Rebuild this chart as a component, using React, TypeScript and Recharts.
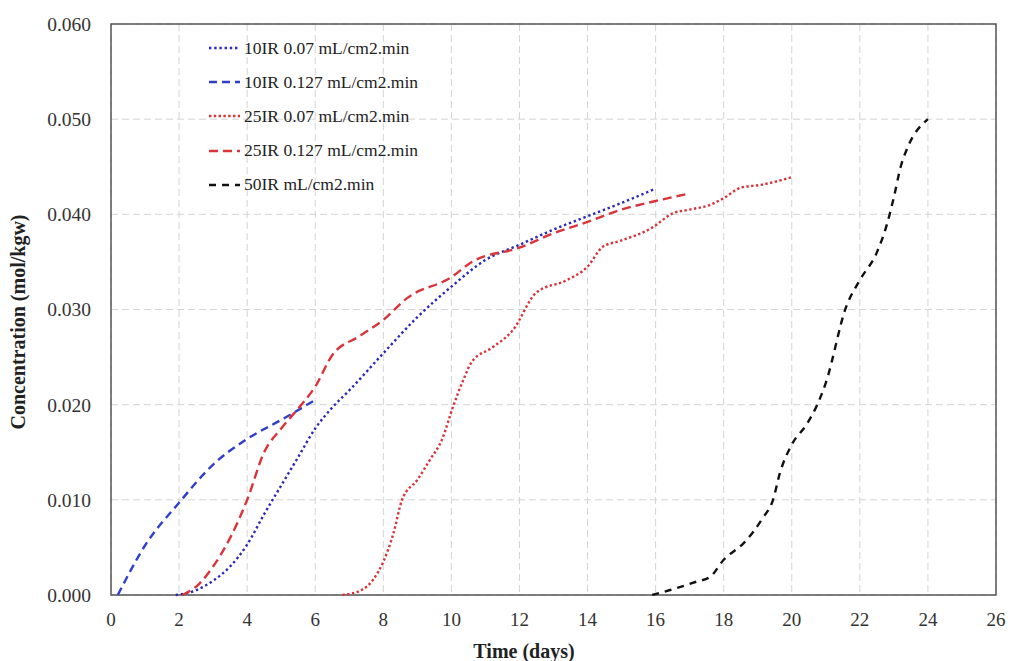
import React from 'react';
import { LineChart, Line, XAxis, YAxis, CartesianGrid, ReferenceArea, Label } from 'recharts';

// 10IR 0.07 mL/cm2.min (blue dotted)
const t10a = [1.9, 2.5, 3, 3.5, 4, 4.5, 5, 5.5, 6, 6.5, 7, 8, 9, 10, 11, 12, 13, 14, 15, 16];
const c10a = [0, 0.0005, 0.0015, 0.003, 0.0053, 0.0085, 0.0115, 0.0145, 0.0175, 0.0197, 0.0215, 0.0254, 0.0292, 0.0324, 0.0352, 0.0368, 0.0384, 0.0398, 0.0412, 0.0427];

// 10IR 0.127 mL/cm2.min (blue dashed)
const t10b = [0.2, 1, 2, 3, 4, 5, 6];
const c10b = [0, 0.0052, 0.0097, 0.0137, 0.0164, 0.0184, 0.0205];

// 25IR 0.07 mL/cm2.min (red dotted)
const t25a = [6.8, 7.4, 7.7, 8.0, 8.3, 8.55, 9.0, 9.37, 9.72, 10.05, 10.35, 10.6, 11.2, 11.8, 12.5, 13.4, 14.0, 14.45, 14.95, 15.9, 16.5, 17.0, 17.6, 18.0, 18.5, 19.1, 20.0];
const c25a = [0, 0.0006, 0.0016, 0.0035, 0.0065, 0.0100, 0.0121, 0.0142, 0.0163, 0.0198, 0.0226, 0.0245, 0.0260, 0.0278, 0.0318, 0.0331, 0.0345, 0.0366, 0.0372, 0.0386, 0.0401, 0.0405, 0.0410, 0.0417, 0.0428, 0.0431, 0.0439];

// 25IR 0.127 mL/cm2.min (red dashed)
const t25b = [2.1, 2.6, 3, 3.5, 4, 4.5, 5, 5.55, 6, 6.5, 7.3, 8.0, 8.7, 10.0, 10.6, 12.0, 13.0, 14.0, 15.0, 16.0, 17.0];
const c25b = [0, 0.0012, 0.003, 0.006, 0.010, 0.015, 0.0175, 0.0198, 0.0219, 0.0252, 0.0272, 0.0289, 0.0312, 0.0334, 0.0350, 0.0365, 0.0380, 0.0392, 0.0405, 0.0414, 0.0422];

// 50IR mL/cm2.min (black dashed)
const t50 = [15.9, 16.4, 17.2, 17.6, 18.0, 18.6, 19.15, 19.45, 19.65, 20.0, 20.45, 20.75, 21.0, 21.6, 22.0, 22.5, 22.8, 23.0, 23.2, 23.4, 24.0];
const c50 = [0, 0.0005, 0.0014, 0.0019, 0.0037, 0.0055, 0.0081, 0.0100, 0.0128, 0.0158, 0.0180, 0.0200, 0.0223, 0.0303, 0.0331, 0.0360, 0.0390, 0.0418, 0.0450, 0.0470, 0.0500];

const xTicks = [0, 2, 4, 6, 8, 10, 12, 14, 16, 18, 20, 22, 24, 26];
const yTicks = [0, 0.01, 0.02, 0.03, 0.04, 0.05, 0.06];

const zip = (t: number[], c: number[]) => t.map((x, i) => ({ x, y: c[i] }));

const series = [
  { name: '10IR 0.07 mL/cm2.min', data: zip(t10a, c10a), color: '#2a2ab8', dash: '2.4 2.8' },
  { name: '10IR 0.127 mL/cm2.min', data: zip(t10b, c10b), color: '#2f3fc9', dash: '8 5' },
  { name: '25IR 0.07 mL/cm2.min', data: zip(t25a, c25a), color: '#d9343a', dash: '2.4 2.4' },
  { name: '25IR 0.127 mL/cm2.min', data: zip(t25b, c25b), color: '#d9343a', dash: '9 5' },
  { name: '50IR mL/cm2.min', data: zip(t50, c50), color: '#111111', dash: '7 6' },
];

const font = '"Liberation Serif", "Times New Roman", serif';

const LegendBox = () => (
  <div style={{ position: 'absolute', left: 207, top: 31, fontFamily: font, fontSize: 17.5, color: '#222' }}>
    {series.map((s) => (
      <div key={s.name} style={{ display: 'flex', alignItems: 'center', height: 34.2 }}>
        <svg width={34} height={10} style={{ marginRight: 3 }}>
          <line x1={2} y1={5} x2={33} y2={5} stroke={s.color} strokeWidth={2.4} strokeDasharray={s.dash} />
        </svg>
        <span>{s.name}</span>
      </div>
    ))}
  </div>
);

const YTitle = () => (
  <text x={18} y={322} transform="rotate(-90, 18, 322)" textAnchor="middle" dominantBaseline="central"
    style={{ fontFamily: font, fontSize: 20, fontWeight: 'bold', fill: '#222' }}>
    Concentration (mol/kgw)
  </text>
);

const XTitle = () => (
  <text x={524} y={651} textAnchor="middle" dominantBaseline="central"
    style={{ fontFamily: font, fontSize: 20, fontWeight: 'bold', fill: '#222' }}>
    Time (days)
  </text>
);

export default function App() {
  return (
    <div style={{ position: 'absolute', left: 0, top: 0, width: 1011, height: 661, background: '#fff' }}>
      <LineChart width={1011} height={661} margin={{ top: 24, right: 15, left: 0, bottom: 0 }}>
        <CartesianGrid stroke="#d4d4d4" strokeDasharray="7 4" vertical horizontal />
        <XAxis type="number" dataKey="x" domain={[0, 26]} ticks={xTicks} interval={0} height={66}
          allowDuplicatedCategory={false} tickLine={false} axisLine={false} tickMargin={12}
          tick={{ fontFamily: font, fontSize: 19, fill: '#333' }}>
          <Label content={<XTitle />} />
        </XAxis>
        <YAxis type="number" dataKey="y" domain={[0, 0.06]} ticks={yTicks} interval={0} width={111}
          tickLine={false} axisLine={false} tickMargin={14} tickFormatter={(v: number) => v.toFixed(3)}
          tick={{ fontFamily: font, fontSize: 19.5, fill: '#333' }}>
          <Label content={<YTitle />} />
        </YAxis>
        <ReferenceArea x1={0} x2={26} y1={0} y2={0.06} fill="none" stroke="#555" strokeWidth={1.5} ifOverflow="visible" />
        {series.map((s) => (
          <Line key={s.name} data={s.data} dataKey="y" name={s.name} type="monotone" stroke={s.color}
            strokeWidth={2.4} strokeDasharray={s.dash} dot={false} activeDot={false} isAnimationActive={false} />
        ))}
      </LineChart>
      <LegendBox />
    </div>
  );
}
